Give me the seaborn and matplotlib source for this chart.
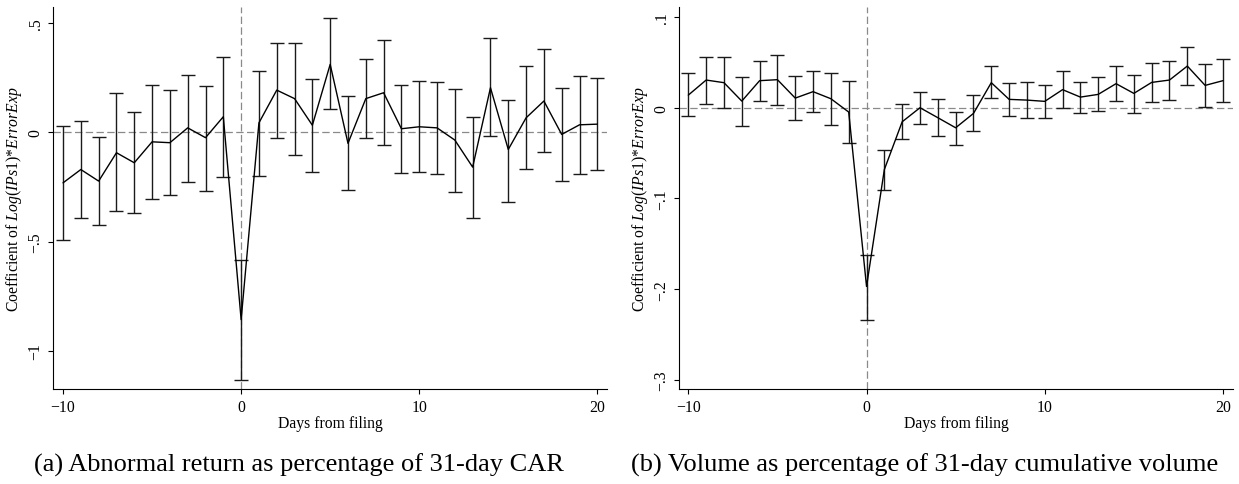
import numpy as np
import pandas as pd
import matplotlib
matplotlib.use("Agg")
import matplotlib.pyplot as plt
import seaborn as sns
from matplotlib.ticker import FixedLocator, FuncFormatter

# ---------------- data ----------------
days = list(range(-10, 21))

# Panel (a): abnormal return
ret_coef = [-0.231, -0.170, -0.223, -0.093, -0.139, -0.043, -0.047, 0.021, -0.024, 0.072,
            -0.858,
            0.044, 0.194, 0.155, 0.033, 0.312, -0.050, 0.155, 0.182, 0.017, 0.026,
            0.021, -0.035, -0.159, 0.205, -0.078, 0.067, 0.144, -0.009, 0.035, 0.038]
ret_lo = [-0.491, -0.393, -0.425, -0.362, -0.368, -0.304, -0.289, -0.225, -0.270, -0.206,
          -1.133,
          -0.200, -0.024, -0.102, -0.182, 0.106, -0.266, -0.026, -0.057, -0.185, -0.183,
          -0.191, -0.271, -0.394, -0.017, -0.317, -0.167, -0.089, -0.223, -0.191, -0.173]
ret_hi = [0.029, 0.052, -0.021, 0.182, 0.093, 0.219, 0.196, 0.265, 0.212, 0.346,
          -0.583,
          0.281, 0.411, 0.411, 0.243, 0.526, 0.165, 0.335, 0.424, 0.216, 0.235,
          0.231, 0.197, 0.072, 0.431, 0.151, 0.304, 0.384, 0.203, 0.261, 0.251]

# Panel (b): volume
vol_coef = [0.0139, 0.0305, 0.0276, 0.0073, 0.0298, 0.0309, 0.0106, 0.0177, 0.0099, -0.0048,
            -0.197,
            -0.0681, -0.0155, 0.0000, -0.0110, -0.0221, -0.0063, 0.0276, 0.0092, 0.0084, 0.0070,
            0.0199, 0.0117, 0.0147, 0.0265, 0.0158, 0.0279, 0.0305, 0.0459, 0.0246, 0.0298]
vol_lo = [-0.0093, 0.0044, -0.0008, -0.0199, 0.0077, 0.0033, -0.0132, -0.0048, -0.0192, -0.0394,
          -0.2337,
          -0.0902, -0.0350, -0.0177, -0.0313, -0.0413, -0.0254, 0.0106, -0.0093, -0.0115, -0.0118,
          -0.0004, -0.0060, -0.0041, 0.0073, -0.0055, 0.0062, 0.0081, 0.0246, 0.0003, 0.0059]
vol_hi = [0.0379, 0.0563, 0.0563, 0.0338, 0.0511, 0.0581, 0.0346, 0.0408, 0.0382, 0.0298,
          -0.162,
          -0.0471, 0.0040, 0.0169, 0.0092, -0.0044, 0.0136, 0.0459, 0.0268, 0.0283, 0.0254,
          0.0401, 0.0287, 0.0334, 0.0459, 0.0356, 0.0492, 0.0519, 0.0673, 0.0478, 0.0536]

ret_yticks = [0.5, 0, -0.5, -1]
vol_yticks = [0.1, 0, -0.1, -0.2, -0.3]
xticks = [-10, 0, 10, 20]

x_label = "Days from filing"
y_label = r"Coefficient of $\mathit{Log(IPs1)}$*$\mathit{ErrorExp}$"
captions = ["(a) Abnormal return as percentage of 31-day CAR",
            "(b) Volume as percentage of 31-day cumulative volume"]

# ---------------- style ----------------
sns.set_theme(style="ticks")
plt.rcParams["font.family"] = ["Liberation Serif", "DejaVu Serif"]
plt.rcParams["mathtext.fontset"] = "custom"
plt.rcParams["mathtext.rm"] = "Liberation Serif"
plt.rcParams["mathtext.it"] = "Liberation Serif:italic"
plt.rcParams["axes.edgecolor"] = "black"
plt.rcParams["axes.linewidth"] = 0.8

FS = 11.3


def fmt(v, _pos=None):
    if abs(v) < 1e-12:
        return "0"
    s = f"{v:g}"
    s = s.replace("0.", ".")
    return s.replace("-", "\u2212")


fig = plt.figure(figsize=(12.39, 4.85), dpi=100)
W, H = 1239, 485
top_px, bot_px = 8, 390
axes_px = [(52.7, 607.3), (678.7, 1233.3)]
ylabel_px = [24, 650]
ylims = [(-1.176, 0.575), (-0.310, 0.111)]
xlims = [(-10.58, 20.56), (-10.54, 20.58)]

panels = [(ret_coef, ret_lo, ret_hi, ret_yticks), (vol_coef, vol_lo, vol_hi, vol_yticks)]

for i, (coef, lo, hi, yt) in enumerate(panels):
    l, r = axes_px[i]
    ax = fig.add_axes([l / W, (H - bot_px) / H, (r - l) / W, (bot_px - top_px) / H])
    df = pd.DataFrame({"day": days, "coef": coef, "lo": lo, "hi": hi})

    ax.axhline(0, color="#8a8a8a", lw=0.9, ls=(0, (5.9, 2.7)), zorder=0)
    ax.axvline(0, color="#8a8a8a", lw=0.9, ls=(0, (5.9, 2.7)), zorder=0)

    c = np.array(coef)
    ax.errorbar(df["day"], c, yerr=[c - np.array(lo), np.array(hi) - c], fmt="none",
                ecolor="#1a1a1a", elinewidth=1.0, capsize=4.8, capthick=1.0, zorder=2)
    sns.lineplot(data=df, x="day", y="coef", ax=ax, color="black", lw=1.0,
                 errorbar=None, zorder=3)

    ax.set_xlim(*xlims[i])
    ax.set_ylim(*ylims[i])
    ax.xaxis.set_major_locator(FixedLocator(xticks))
    ax.yaxis.set_major_locator(FixedLocator(yt))
    ax.yaxis.set_major_formatter(FuncFormatter(fmt))
    ax.xaxis.set_major_formatter(FuncFormatter(lambda v, p: fmt(v)))
    sns.despine(ax=ax)
    ax.tick_params(axis="both", direction="out", length=3.6, width=0.8, color="black",
                   labelsize=FS, labelcolor="black")
    ax.tick_params(axis="x", pad=3.5)
    ax.tick_params(axis="y", pad=3)
    for t in ax.get_yticklabels():
        t.set_rotation(90)
        t.set_rotation_mode("anchor")
        t.set_ha("center")
        t.set_va("bottom")

    ax.set_xlabel(x_label, fontsize=FS, color="black")
    ax.set_ylabel(y_label, fontsize=FS, color="black")
    ax.xaxis.set_label_coords(0.5, (bot_px - 416) / (bot_px - top_px))
    ax.yaxis.set_label_coords((ylabel_px[i] - l) / (r - l), 0.5)
    ax.set_facecolor("white")

fig.text(298.5 / W, (H - 471.7) / H, captions[0], ha="center", va="baseline",
         fontsize=19, color="black")
fig.text(925 / W, (H - 471.7) / H, captions[1], ha="center", va="baseline",
         fontsize=19, color="black")

fig.savefig("out.png", dpi=100, facecolor="white")
